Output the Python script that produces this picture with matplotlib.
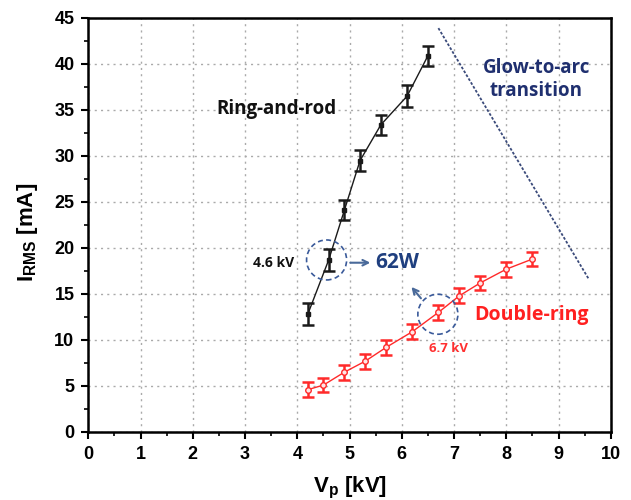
import matplotlib
matplotlib.use("Agg")
import matplotlib.pyplot as plt
from matplotlib.patches import Ellipse
from matplotlib.ticker import MultipleLocator

plt.rcParams['mathtext.fontset'] = 'custom'
plt.rcParams['mathtext.bf'] = 'Liberation Sans:bold'
plt.rcParams['mathtext.rm'] = 'Liberation Sans:bold'
plt.rcParams['mathtext.it'] = 'Liberation Sans:bold'

# Ring-and-rod data
rr_v = [4.2, 4.6, 4.9, 5.2, 5.6, 6.1, 6.5]
rr_i = [12.8, 18.7, 24.1, 29.5, 33.4, 36.5, 40.9]
rr_err = [1.2, 1.2, 1.1, 1.1, 1.1, 1.2, 1.1]

# Double-ring data
dr_v = [4.2, 4.5, 4.9, 5.3, 5.7, 6.2, 6.7, 7.1, 7.5, 8.0, 8.5]
dr_i = [4.6, 5.1, 6.5, 7.7, 9.2, 10.9, 13.0, 14.8, 16.2, 17.7, 18.8]
dr_err = [0.8, 0.8, 0.8, 0.8, 0.8, 0.8, 0.8, 0.8, 0.8, 0.8, 0.8]

# Glow-to-arc transition line endpoints
arc_v = [6.7, 9.57]
arc_i = [43.9, 16.7]

xticks = [0, 1, 2, 3, 4, 5, 6, 7, 8, 9, 10]
yticks = [0, 5, 10, 15, 20, 25, 30, 35, 40, 45]

fig = plt.figure(figsize=(6.31, 5.0), dpi=100)
ax = fig.add_axes([0.140, 0.136, 0.828, 0.828])

ax.set_xlim(0, 10)
ax.set_ylim(0, 45)
ax.set_xticks(xticks)
ax.set_yticks(yticks)
ax.xaxis.set_minor_locator(MultipleLocator(0.5))
ax.yaxis.set_minor_locator(MultipleLocator(2.5))
ax.tick_params(which='major', direction='out', length=5, width=1.5,
               labelsize=13, pad=5)
ax.tick_params(which='minor', direction='out', length=3, width=1.2)
for lab in ax.get_xticklabels() + ax.get_yticklabels():
    lab.set_fontfamily('Liberation Sans')
    lab.set_fontweight('bold')
for s in ax.spines.values():
    s.set_linewidth(1.8)

ax.grid(True, which='major', linestyle=(0, (1.5, 3)), color='#aaaaaa',
        linewidth=1.0)
ax.set_axisbelow(True)

ax.errorbar(rr_v, rr_i, yerr=rr_err, color='#1a1a1a', marker='s',
            markersize=3, linewidth=1.0, elinewidth=1.8, capsize=4,
            capthick=1.8, zorder=3)
ax.errorbar(dr_v, dr_i, yerr=dr_err, color='#ff2a2a', marker='o',
            markersize=4, markerfacecolor='#ffe6e6', linewidth=1.0,
            elinewidth=1.8, capsize=4, capthick=1.8, zorder=3)

ax.plot(arc_v, arc_i, linestyle=(0, (1.5, 1)), color='#3a4a7a', linewidth=1.3)

ax.set_xlabel(r'$\mathbf{V_p}$ [kV]', fontsize=16, fontweight='bold',
              fontfamily='Liberation Sans', labelpad=9)
ax.set_ylabel(r'$\mathbf{I_{RMS}}$ [mA]', fontsize=16, fontweight='bold',
              fontfamily='Liberation Sans', labelpad=8)
ax.yaxis.set_label_coords(-0.092, 0.483)

# Dashed circles (ellipses so they look round in pixel space)
rx = 20 / 52.2
ry = 20 / 9.2
for cx, cy in [(4.56, 18.7), (6.69, 12.8)]:
    ax.add_patch(Ellipse((cx, cy), 2 * rx, 2 * ry, fill=False,
                         edgecolor='#3a5a9a', linestyle=(0, (3, 2)),
                         linewidth=1.2, zorder=4))

ax.annotate('', xy=(5.45, 18.4), xytext=(4.96, 18.4),
            arrowprops=dict(arrowstyle='->', color='#4a6a9a', lw=1.5))
ax.annotate('', xy=(6.15, 16.0), xytext=(6.40, 14.3),
            arrowprops=dict(arrowstyle='->', color='#4a6a9a', lw=1.5))

ax.text(5.5, 18.4, '62W', color='#1f3f7f', fontsize=15,
        fontweight='bold', fontfamily='Open Sans', va='center', ha='left')
ax.text(3.55, 18.4, '4.6 kV', color='#111111', fontsize=10,
        fontweight='bold', fontfamily='Open Sans', va='center', ha='center')
ax.text(3.6, 35.1, 'Ring-and-rod', color='#111111', fontsize=13.5,
        fontweight='bold', fontfamily='Open Sans', va='center', ha='center')
ax.text(8.48, 12.7, 'Double-ring', color='#ff2020', fontsize=14,
        fontweight='bold', fontfamily='Open Sans', va='center', ha='center')
ax.text(6.9, 9.1, '6.7 kV', color='#ff3030', fontsize=9.5,
        fontweight='bold', fontfamily='Open Sans', va='center', ha='center')
ax.text(8.57, 38.3, 'Glow-to-arc\ntransition', color='#1f2f6f',
        fontsize=13.5, fontweight='bold', fontfamily='Open Sans',
        va='center', ha='center', linespacing=1.2)

fig.savefig('out.png', dpi=100)
